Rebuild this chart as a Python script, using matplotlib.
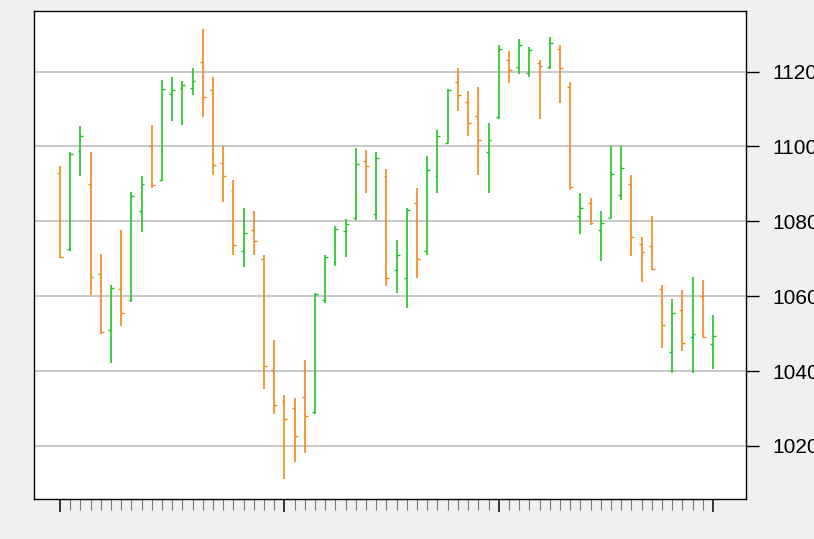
import matplotlib
matplotlib.use("Agg")
import matplotlib.pyplot as plt
import numpy as np

# OHLC values (one bar per session)
opens = [1093, 1072.5, 1098.7, 1090, 1065.8, 1051, 1062, 1059, 1082.7, 1100,
         1091, 1114, 1115.5, 1115.5, 1122.7, 1115, 1095.6, 1088, 1072, 1077.6,
         1070, 1040.3, 1032, 1030, 1033, 1029, 1059, 1069, 1077.3, 1081,
         1096, 1082, 1092, 1066.9, 1064.9, 1085, 1072, 1092, 1101, 1117.3,
         1112, 1108.2, 1098.4, 1108, 1123, 1121.3, 1119.5, 1122.3, 1121.3, 1126,
         1116, 1081.3, 1085, 1077.6, 1081, 1087, 1090, 1074, 1073.3, 1062,
         1045, 1056.4, 1049, 1060, 1047.1]
highs = [1094.7, 1098.5, 1105.5, 1098.5, 1071.3, 1062.9, 1077.8, 1087.8, 1092.2, 1105.7,
         1117.8, 1118.5, 1117.6, 1120.9, 1131.3, 1118.5, 1100.2, 1091.1, 1083.6, 1082.7,
         1071.1, 1048.4, 1033.5, 1032.9, 1043, 1060.9, 1071.1, 1078.7, 1080.6, 1099.6,
         1099.1, 1098.4, 1094, 1074.9, 1083.6, 1088.9, 1097.5, 1104.4, 1115.3, 1120.9,
         1114.7, 1116, 1106.4, 1127.1, 1125.6, 1128.6, 1126.5, 1123.1, 1129.2, 1127.1,
         1117.3, 1087.6, 1086.2, 1082.7, 1100.2, 1100.2, 1092.4, 1075.8, 1081.3, 1063.1,
         1059.3, 1061.6, 1065.2, 1064.4, 1055.1]
lows = [1070.2, 1072, 1092, 1060.2, 1049.8, 1042.2, 1052, 1058.4, 1077.1, 1088.9,
        1090.7, 1106.9, 1105.7, 1113.8, 1108, 1092.4, 1085.1, 1071.1, 1067.8, 1071.1,
        1035.1, 1028.4, 1011.1, 1015.7, 1018, 1028.4, 1058.2, 1068, 1070.5, 1080.4,
        1087.7, 1080.4, 1062.7, 1060.9, 1056.9, 1064.9, 1071.1, 1087.7, 1100.9, 1109.6,
        1102.8, 1092.4, 1087.7, 1107.3, 1116.9, 1119.4, 1118.5, 1107.3, 1120.6, 1111.6,
        1088.3, 1076.5, 1079.1, 1069.3, 1080.9, 1085.8, 1070.7, 1063.7, 1066.9, 1046.2,
        1039.6, 1045.3, 1039.6, 1048.9, 1040.6]
closes = [1070.5, 1098, 1102.7, 1065, 1050.4, 1062.2, 1055.6, 1086.8, 1090, 1089.6,
          1115.4, 1115, 1116.3, 1117.5, 1113.2, 1095.1, 1092, 1073.8, 1076.9, 1074.7,
          1041.3, 1030.8, 1027.3, 1022.7, 1028, 1060.5, 1070.5, 1078, 1079.4, 1095.4,
          1094.8, 1096.8, 1064.9, 1071.1, 1083, 1069.8, 1093.8, 1102.7, 1115, 1113.8,
          1106.2, 1101.6, 1101.6, 1126, 1120.4, 1127.1, 1125.8, 1121.5, 1127.7, 1120.9,
          1089.3, 1083.6, 1079.5, 1079.6, 1092.7, 1094.2, 1075.8, 1071.7, 1067.3, 1052.2,
          1055.4, 1047.4, 1050, 1049.2, 1049.3]
major_ticks = [0, 22, 43, 64]
y_ticks = [1020, 1040, 1060, 1080, 1100, 1120]

up_col = '#22c222'
down_col = '#f0881c'

x = np.arange(len(opens))
o = np.array(opens)
c = np.array(closes)
cols = [up_col if cc >= oo else down_col for oo, cc in zip(o, c)]

fig = plt.figure(figsize=(8.14, 5.39), dpi=100)
fig.set_facecolor('#f0f0f0')
ax = fig.add_axes([34/814, 1 - 499/539, (746 - 34)/814, (499 - 11)/539])
ax.set_facecolor('white')

# grid
for yv in y_ticks:
    ax.axhline(yv, color='#c8c8c8', lw=1.4, zorder=0)

tw = 0.28
ax.vlines(x, lows, highs, colors=cols, lw=1.2, zorder=2)
ax.hlines(opens, x - tw, x, colors=cols, lw=1.0, zorder=2)
ax.hlines(closes, x, x + tw, colors=cols, lw=1.0, zorder=2)

ax.set_xlim(-2.55, 67.24)
ax.set_ylim(1005.8, 1136.2)

ax.yaxis.tick_right()
ax.set_yticks(y_ticks)
ax.set_yticklabels([str(v) for v in y_ticks], fontsize=15, family='Liberation Sans')
ax.tick_params(axis='y', length=9, width=1, pad=10, colors='black')

ax.set_xticks(major_ticks)
ax.set_xticks([i for i in x if i not in major_ticks], minor=True)
ax.set_xticklabels([])
ax.tick_params(axis='x', which='major', length=9, width=1.1, color='black')
ax.tick_params(axis='x', which='minor', length=8, width=0.8, color='#777777')

for s in ax.spines.values():
    s.set_color('black')
    s.set_linewidth(1.0)

fig.savefig('out.png', dpi=100, facecolor=fig.get_facecolor())
